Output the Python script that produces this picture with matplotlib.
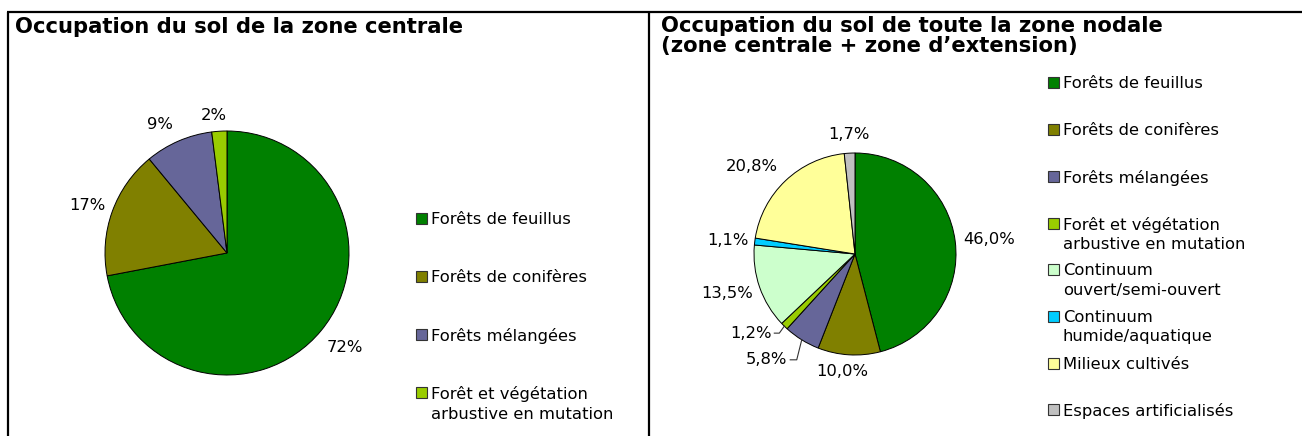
import numpy as np
import matplotlib.pyplot as plt

# zone centrale
left_names = ["Forêts de feuillus", "Forêts de conifères", "Forêts mélangées",
              "Forêt et végétation\narbustive en mutation"]
left_values = [72, 17, 9, 2]

# toute la zone nodale
right_names = ["Forêts de feuillus", "Forêts de conifères", "Forêts mélangées",
               "Forêt et végétation\narbustive en mutation",
               "Continuum\nouvert/semi-ouvert", "Continuum\nhumide/aquatique",
               "Milieux cultivés", "Espaces artificialisés"]
right_values = [46.0, 10.0, 5.8, 1.2, 13.5, 1.1, 20.8, 1.7]

colors = ["#008000", "#808000", "#666699", "#99CC00",
          "#CCFFCC", "#00CCFF", "#FFFF99", "#C0C0C0"]

W, H = 1302, 436
FS = 11.8
fig = plt.figure(figsize=(W / 100, H / 100), dpi=100)
ax = fig.add_axes([0, 0, 1, 1])


def draw_pie(values, center, radius, fmt, dist, shift, leaders=None):
    wedges, _ = ax.pie(values, colors=colors[:len(values)], center=center, radius=radius,
                       startangle=-90, counterclock=True,
                       wedgeprops=dict(edgecolor="black", linewidth=0.7))
    leaders = leaders or {}
    for i, (w, v) in enumerate(zip(wedges, values)):
        txt = fmt(v)
        mid = np.deg2rad((w.theta1 + w.theta2) / 2)
        if i in leaders:
            ex = center[0] + radius * np.cos(mid)
            ey = center[1] + radius * np.sin(mid)
            dx, dy = leaders[i]
            ax.text(ex + dx, ey + dy, txt, ha="right", va="center", fontsize=FS)
            ax.plot([ex + dx + 3, ex - 5, ex], [ey + dy, ey + dy, ey],
                    color="#333333", lw=0.8)
        else:
            a = mid + np.deg2rad(shift[i])
            ax.text(center[0] + dist[i] * radius * np.cos(a),
                    center[1] + dist[i] * radius * np.sin(a),
                    txt, ha="center", va="center", fontsize=FS)


def draw_legend(names, x, y0, step):
    for i, name in enumerate(names):
        y = y0 + i * step
        ax.add_patch(plt.Rectangle((x - 5.5, y - 5.5), 11, 11, facecolor=colors[i],
                                   edgecolor="#333333", lw=0.8))
        ax.text(x + 10, y - 6.5, name, ha="left", va="top", fontsize=FS,
                linespacing=1.36)


draw_pie(left_values, (227, 253), 122, lambda v: f"{v:.0f}%",
         [1.24, 1.21, 1.19, 1.13], [-1, -1, -4, -2])
draw_pie(right_values, (855, 254), 101,
         lambda v: f"{v:.1f}%".replace(".", ","),
         [1.34, 1.17, 1.37, 1.32, 1.33, 1.27, 1.34, 1.18],
         [1, 3, 8, 9, 2, -1, -6, 0],
         leaders={2: (-14.5, 20), 3: (-13, 7)})

draw_legend(left_names, 421, 218, 58.3)
draw_legend(right_names, 1053, 83, 46.7)

ax.text(15, 27, "Occupation du sol de la zone centrale", fontsize=15.2,
        fontweight="bold", ha="left", va="center")
ax.text(661, 16, "Occupation du sol de toute la zone nodale\n(zone centrale + zone d’extension)",
        fontsize=15.2, fontweight="bold", ha="left", va="top", linespacing=0.97)

# cadres
ax.plot([7, W], [12, 12], color="black", lw=1.6, solid_capstyle="butt")
ax.plot([8, 8], [12, H], color="black", lw=1.6, solid_capstyle="butt")
ax.plot([649, 649], [12, H], color="black", lw=1.6, solid_capstyle="butt")

ax.set_xlim(0, W)
ax.set_ylim(H, 0)
ax.set_aspect("auto")
ax.axis("off")

fig.savefig("out.png", dpi=100)
